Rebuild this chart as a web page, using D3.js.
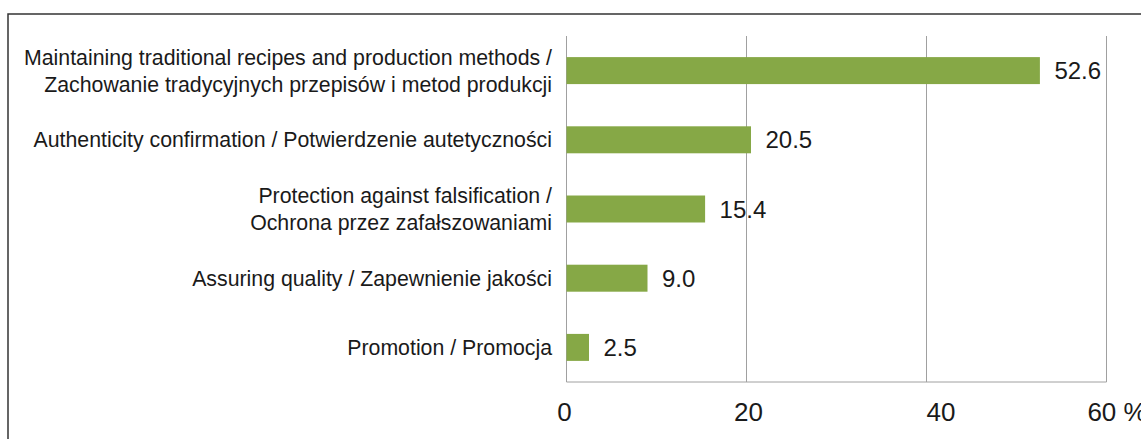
<!DOCTYPE html>
<html><head><meta charset="utf-8">
<script src="https://cdn.jsdelivr.net/npm/d3@7"></script>
<style>
html,body{margin:0;padding:0;background:#fff;}
svg{display:block;}
text{font-family:"Liberation Sans",Arial,sans-serif;fill:#1a1a1a;}
</style></head>
<body>
<script>
const categories = [
  ["Maintaining traditional recipes and production methods /", "Zachowanie tradycyjnych przepisów i metod produkcji"],
  ["Authenticity confirmation / Potwierdzenie autetyczności"],
  ["Protection against falsification /", "Ochrona przez zafałszowaniami"],
  ["Assuring quality / Zapewnienie jakości"],
  ["Promotion / Promocja"]
];
const values = [52.6, 20.5, 15.4, 9.0, 2.5];
const tickValues = [0, 20, 40, 60];
const tickLabels = ["0", "20", "40", "60 %"];

(function () {
const W = 1141, H = 439;
const svg = d3.select("body").append("svg").attr("width", W).attr("height", H);

// outer frame
svg.append("rect").attr("x", 8).attr("y", 14).attr("width", W + 20).attr("height", H + 20)
  .attr("fill", "none").attr("stroke", "#333").attr("stroke-width", 1.5);

const pL = 566.5, pR = 1106.5, pT = 36, pB = 382;
const x = d3.scaleLinear().domain([0, 60]).range([pL, pR]);
const y = d3.scaleBand().domain(d3.range(values.length)).range([pT, pB]).paddingInner(0.61).paddingOuter(0.305);

// gridlines
svg.append("g").selectAll("line").data(tickValues.slice(1)).join("line")
  .attr("x1", d => x(d)).attr("x2", d => x(d)).attr("y1", pT).attr("y2", pB)
  .attr("stroke", "#a0a0a0").attr("stroke-width", 1);

// axis lines
svg.append("line").attr("x1", x(0)).attr("x2", x(0)).attr("y1", pT).attr("y2", pB)
  .attr("stroke", "#a0a0a0").attr("stroke-width", 1);
svg.append("line").attr("x1", x(0)).attr("x2", x(60)).attr("y1", pB).attr("y2", pB)
  .attr("stroke", "#a0a0a0").attr("stroke-width", 1);

// bars
svg.append("g").selectAll("rect").data(values).join("rect")
  .attr("x", x(0)).attr("y", (d, i) => y(i))
  .attr("width", d => x(d) - x(0)).attr("height", y.bandwidth())
  .attr("fill", "#86a846");

// value labels
svg.append("g").selectAll("text").data(values).join("text")
  .attr("x", d => x(d) + 14.5).attr("y", (d, i) => y(i) + y.bandwidth() / 2)
  .attr("dy", "0.36em").attr("font-size", 24)
  .text(d => d.toFixed(1));

// category labels
const catG = svg.append("g");
categories.forEach((lines, i) => {
  const cy = y(i) + y.bandwidth() / 2;
  const lh = 27;
  const t = catG.append("text").attr("text-anchor", "end").attr("font-size", 21.3);
  lines.forEach((ln, j) => {
    t.append("tspan").attr("x", 552).attr("y", cy + (j - (lines.length - 1) / 2) * lh).attr("dy", "0.36em").text(ln);
  });
});

// x axis tick labels
const tickOffsets = [-2.5, 1.5, 14, 10];
const axis = d3.axisBottom(x).tickValues(tickValues).tickSize(0).tickPadding(0)
  .tickFormat((d, i) => tickLabels[i]);
const ag = svg.append("g").attr("transform", `translate(0,${pB})`).call(axis);
ag.select(".domain").remove();
ag.selectAll("text").attr("font-size", 26).attr("font-family", '"Liberation Sans",Arial,sans-serif')
  .attr("fill", "#1a1a1a").attr("y", 39).attr("dy", 0)
  .attr("dx", (d, i) => tickOffsets[i]);
})();
</script>
</body></html>
